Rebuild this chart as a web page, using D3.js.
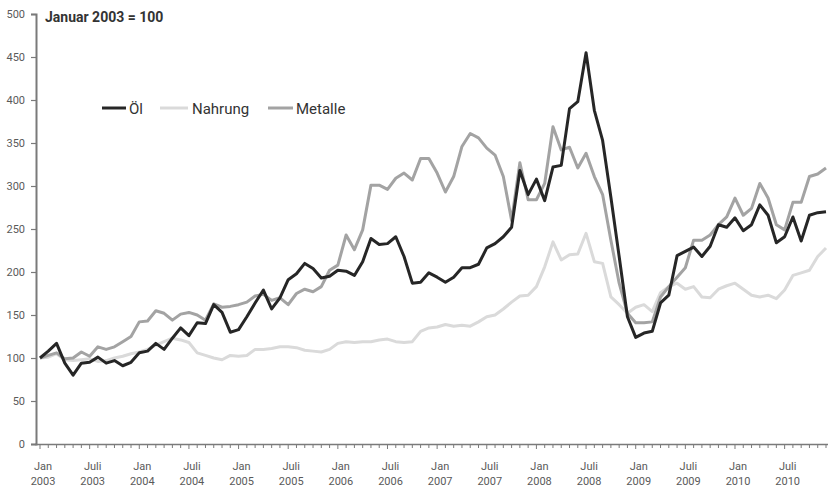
<!DOCTYPE html>
<html><head><meta charset="utf-8">
<script src="https://cdn.jsdelivr.net/npm/d3@7"></script>
<style>body{margin:0;background:#fff;} svg{display:block;}</style>
</head><body>
<svg id="c" width="830" height="490"></svg>
<script>
const years = [2003,2004,2005,2006,2007,2008,2009,2010];
const yTicks = [0,50,100,150,200,250,300,350,400,450,500];
const seriesNames = ["Öl","Nahrung","Metalle"];
const oel = [100,108,117,94,80,94,95,101,94,97,91,95,
  106,108,117,110,123,135,126,141,140,162,153,130,
  133,148,164,179,157,170,191,198,210,204,193,195,
  202,201,196,212,239,232,233,241,218,187,188,199,
  194,188,194,205,205,209,228,233,241,252,318,290,
  308,283,322,324,390,398,455,388,353,287,218,148,
  124,129,131,164,173,219,224,229,218,230,255,252,
  263,248,255,278,266,234,241,264,236,266,269,270];
const nahrung = [100,101,105,98,97,98,99,96,97,100,102,105,
  107,110,115,119,123,121,118,106,103,100,98,103,
  102,103,110,110,111,113,113,112,109,108,107,110,
  117,119,118,119,119,121,122,119,118,119,131,135,
  136,139,137,138,137,142,148,150,157,165,172,173,
  183,206,235,214,220,221,245,212,210,171,162,152,
  159,162,154,176,183,187,180,183,171,170,180,184,
  187,180,173,171,173,169,179,196,199,202,218,228];
const metalle = [100,103,106,99,100,107,102,113,110,113,119,125,
  142,143,155,152,144,151,153,150,144,163,159,160,
  162,165,172,174,167,170,162,175,180,177,183,202,
  208,243,226,249,301,301,296,309,315,307,332,332,
  315,293,311,346,361,356,344,336,311,260,327,284,
  284,303,369,342,345,321,338,311,290,237,187,152,
  141,141,142,171,183,194,205,237,237,243,255,264,
  286,266,274,303,286,255,249,281,281,311,314,321];
const colors = {"Öl":"#262626","Nahrung":"#dadada","Metalle":"#a3a3a3"};

const svg = d3.select("#c");
const font = "Roboto, 'DejaVu Sans', sans-serif";
const x = d3.scaleLinear().domain([0,95]).range([40,826]);
const y = d3.scaleLinear().domain([0,500]).range([444,14]);

// axes
const axisCol = "#7a7a7a";
const yAxis = svg.append("g").attr("transform","translate(36,0)")
  .call(d3.axisLeft(y).tickValues(yTicks).tickSize(5).tickPadding(6));
yAxis.select(".domain").attr("stroke",axisCol).attr("stroke-width",2);
yAxis.selectAll(".tick line").attr("stroke",axisCol).attr("stroke-width",1.2);
yAxis.selectAll("text").attr("fill","#5a5a5a").style("font-family",font).style("font-size","11px");

svg.append("line").attr("x1",35).attr("x2",828).attr("y1",444.5).attr("y2",444.5)
  .attr("stroke",axisCol).attr("stroke-width",1.5);
const months = d3.range(0,96);
svg.append("g").selectAll("line").data(months).join("line")
  .attr("x1",d=>x(d)).attr("x2",d=>x(d)).attr("y1",444.5)
  .attr("y2",d=> d%6===0 ? 449 : 448)
  .attr("stroke",axisCol).attr("stroke-width",1);

const labels = [];
years.forEach(yr=>{ labels.push({m:(yr-2003)*12, a:"Jan", b:String(yr)}); labels.push({m:(yr-2003)*12+6, a:"Juli", b:String(yr)}); });
const lg = svg.append("g").selectAll("g").data(labels).join("g")
  .attr("transform",d=>`translate(${x(d.m)+3},0)`);
lg.append("text").attr("y",470).attr("text-anchor","middle").text(d=>d.a)
  .attr("fill","#5a5a5a").style("font-family",font).style("font-size","11px");
lg.append("text").attr("y",485).attr("text-anchor","middle").text(d=>d.b)
  .attr("fill","#5a5a5a").style("font-family",font).style("font-size","11px");

// title
svg.append("text").attr("x",45).attr("y",22).text("Januar 2003 = 100")
  .attr("fill","#333").style("font-family",font).style("font-size","14px").style("font-weight","bold");

// lines
const line = d3.line().x((d,i)=>x(i)).y(d=>y(d));
const data = {"Öl":oel,"Nahrung":nahrung,"Metalle":metalle};
["Nahrung","Metalle","Öl"].forEach(n=>{
  svg.append("path").datum(data[n]).attr("d",line).attr("fill","none")
    .attr("stroke",colors[n]).attr("stroke-width",3).attr("stroke-linejoin","round");
});

// legend
const legendPos = [{n:"Öl",x1:102,x2:126,tx:129},{n:"Nahrung",x1:160,x2:188,tx:192},{n:"Metalle",x1:268,x2:293,tx:296}];
legendPos.forEach(l=>{
  svg.append("line").attr("x1",l.x1).attr("x2",l.x2).attr("y1",108).attr("y2",108)
    .attr("stroke",colors[l.n]).attr("stroke-width",3);
  svg.append("text").attr("x",l.tx).attr("y",114).text(l.n)
    .attr("fill","#333").style("font-family",font).style("font-size","15px");
});
</script>
</body></html>
